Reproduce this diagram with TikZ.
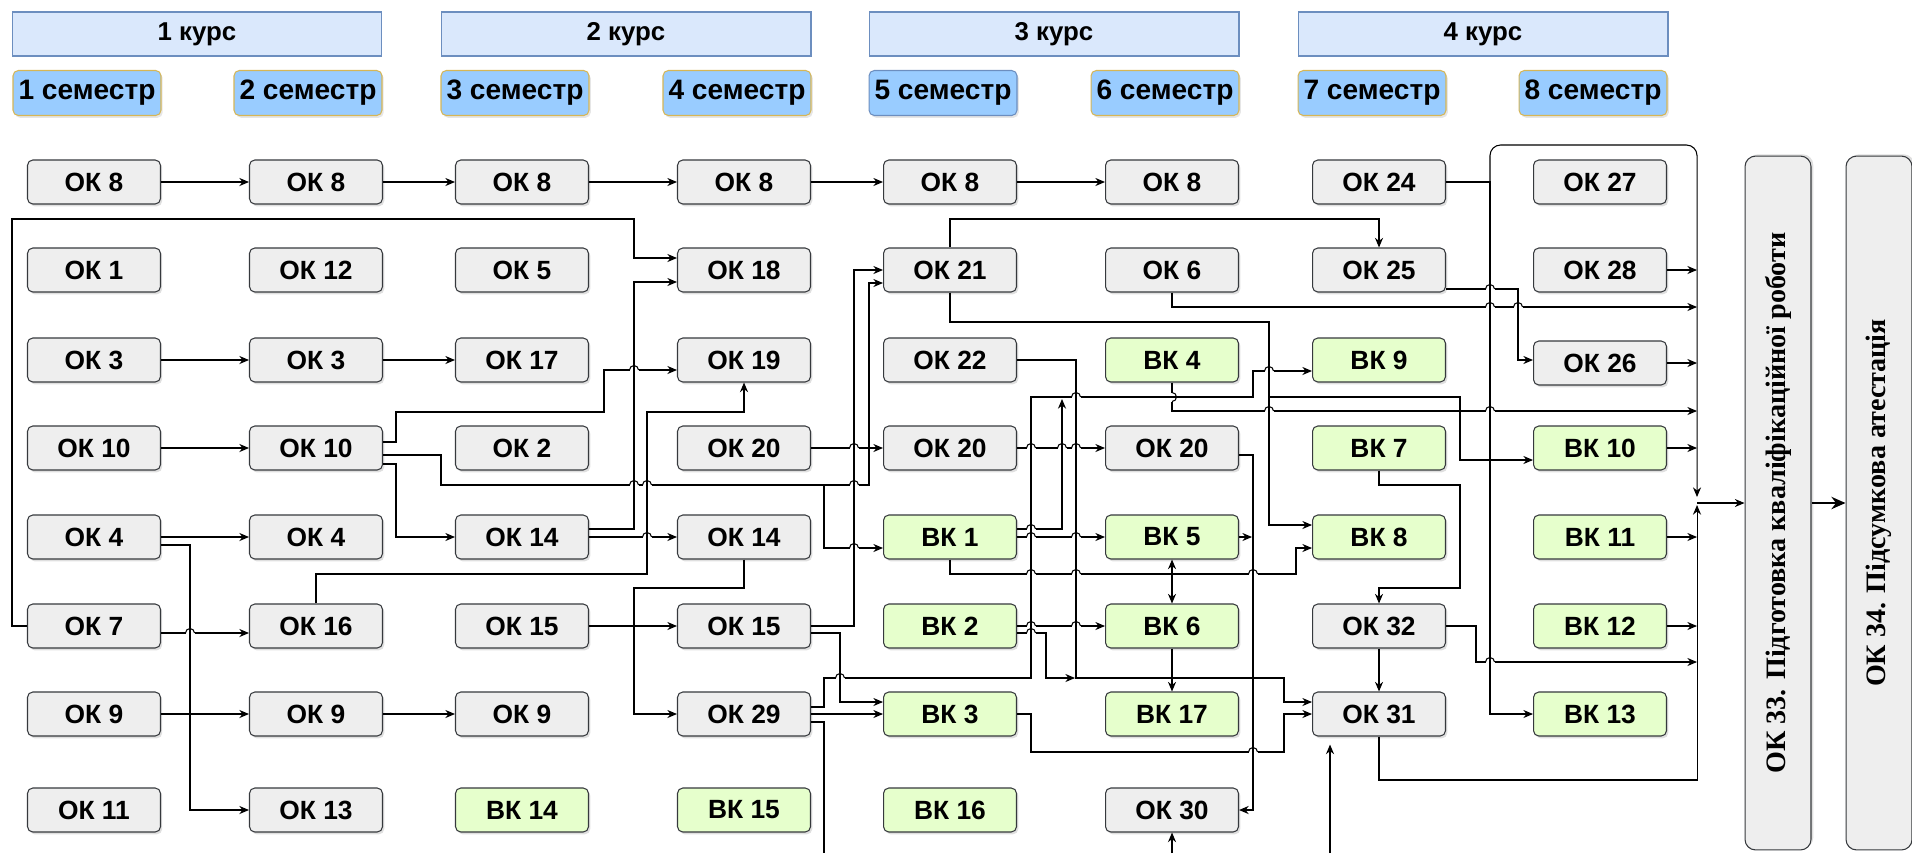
\documentclass[tikz,border=0pt]{standalone}
\usepackage{fontspec}
\setsansfont{Liberation Sans}
\setmainfont{Liberation Serif}
\usetikzlibrary{calc, arrows.meta, shadows}

\definecolor{okfill}{HTML}{EEEEEE}
\definecolor{vkfill}{HTML}{E6FFCC}
\definecolor{boxline}{HTML}{36393D}
\definecolor{kursfill}{HTML}{DAE8FC}
\definecolor{kursline}{HTML}{6C8EBF}
\definecolor{semfill}{HTML}{99CCFF}
\definecolor{semline}{HTML}{D6B656}

% line jump over a vertical wire (on a horizontal one), and the other way round
\newcommand\lnhop[2]{%
	\fill[white] ({#1-4.5},{#2-1.6}) rectangle ({#1+4.5},{#2+1.6});
	\draw (#1,{#2-6}) -- (#1,{#2+6});
	\draw ({#1-4.5},#2) arc[start angle=180, end angle=0, radius=2.56pt];}
\newcommand\vlnhop[2]{%
	\fill[white] ({#1-1.6},{#2-4.5}) rectangle ({#1+1.6},{#2+4.5});
	\draw ({#1-6},#2) -- ({#1+6},#2);
	\draw (#1,{#2-4.5}) arc[start angle=90, end angle=-90, radius=2.56pt];}

\begin{document}
\begin{tikzpicture}[x=0.02cm, y=-0.02cm,
		okbox/.style={rectangle, draw=boxline, fill=okfill, rounded corners=3pt, minimum width=2.66cm, minimum height=0.88cm, inner sep=0pt, font=\sffamily\bfseries\fontsize{15}{17}\selectfont, drop shadow={shadow xshift=1pt, shadow yshift=-1.3pt, opacity=0.25}},
		vkbox/.style={okbox, fill=vkfill},
		kurs/.style={rectangle, draw=kursline, fill=kursfill, minimum width=7.4cm, minimum height=0.88cm, inner sep=0pt, font=\sffamily\bfseries\fontsize{14.7}{17}\selectfont},
		sem/.style={rectangle, draw=semline, fill=semfill, rounded corners=3pt, minimum width=2.96cm, minimum height=0.9cm, inner sep=0pt, font=\sffamily\bfseries\fontsize{16}{18}\selectfont, drop shadow={shadow xshift=1pt, shadow yshift=-1.3pt, opacity=0.2}},
		finalbox/.style={rectangle, draw=boxline, fill=okfill, rounded corners=6pt, minimum width=13.88cm, minimum height=1.32cm, inner sep=0pt, font=\rmfamily\bfseries\fontsize{16}{18}\selectfont, drop shadow={shadow xshift=1.3pt, shadow yshift=1pt, opacity=0.25}},
		>={Stealth[length=5.5pt, width=4.6pt]}, line width=0.6pt
	]
	\useasboundingbox (0,0) rectangle (1912,853);

	% years and semesters
	\foreach \n/\t/\x in {k1/1 курс/197, k2/2 курс/626, k3/3 курс/1054, k4/4 курс/1483}
		\node[kurs] (\n) at (\x,34) {\t};
	\foreach \n/\t/\x in {sem1/1 семестр/87, sem2/2 семестр/308, sem3/3 семестр/515, sem4/4 семестр/737, sem6/6 семестр/1165, sem7/7 семестр/1372, sem8/8 семестр/1593}
		\node[sem] (\n) at (\x,93) {\t};
	\node[sem, draw=kursline] (sem5) at (943,93) {5 семестр};

	% disciplines
	\foreach \n/\t/\x/\y in {ok8s1/ОК 8/94/182, ok1s1/ОК 1/94/270, ok3s1/ОК 3/94/360, ok10s1/ОК 10/94/448, ok4s1/ОК 4/94/537, ok7s1/ОК 7/94/626, ok9s1/ОК 9/94/714, ok11s1/ОК 11/94/810,
		ok8s2/ОК 8/316/182, ok12s2/ОК 12/316/270, ok3s2/ОК 3/316/360, ok10s2/ОК 10/316/448, ok4s2/ОК 4/316/537, ok16s2/ОК 16/316/626, ok9s2/ОК 9/316/714, ok13s2/ОК 13/316/810,
		ok8s3/ОК 8/522/182, ok5s3/ОК 5/522/270, ok17s3/ОК 17/522/360, ok2s3/ОК 2/522/448, ok14s3/ОК 14/522/537, ok15s3/ОК 15/522/626, ok9s3/ОК 9/522/714,
		ok8s4/ОК 8/744/182, ok18s4/ОК 18/744/270, ok19s4/ОК 19/744/360, ok20s4/ОК 20/744/448, ok14s4/ОК 14/744/537, ok15s4/ОК 15/744/626, ok29s4/ОК 29/744/714,
		ok8s5/ОК 8/950/182, ok21s5/ОК 21/950/270, ok22s5/ОК 22/950/360, ok20s5/ОК 20/950/448,
		ok8s6/ОК 8/1172/182, ok6s6/ОК 6/1172/270, ok20s6/ОК 20/1172/448, ok30s6/ОК 30/1172/810,
		ok24s7/ОК 24/1379/182, ok25s7/ОК 25/1379/270, ok32s7/ОК 32/1379/626, ok31s7/ОК 31/1379/714,
		ok27s8/ОК 27/1600/182, ok28s8/ОК 28/1600/270, ok26s8/ОК 26/1600/363}
		\node[okbox] (\n) at (\x,\y) {\t};
	\foreach \n/\t/\x/\y in {vk14s3/ВК 14/522/810, vk15s4/ВК 15/744/810,
		vk1s5/ВК 1/950/537, vk2s5/ВК 2/950/626, vk3s5/ВК 3/950/714, vk16s5/ВК 16/950/810,
		vk4s6/ВК 4/1172/360, vk5s6/ВК 5/1172/537, vk6s6/ВК 6/1172/626, vk17s6/ВК 17/1172/714,
		vk9s7/ВК 9/1379/360, vk7s7/ВК 7/1379/448, vk8s7/ВК 8/1379/537,
		vk10s8/ВК 10/1600/448, vk11s8/ВК 11/1600/537, vk12s8/ВК 12/1600/626, vk13s8/ВК 13/1600/714}
		\node[vkbox] (\n) at (\x,\y) {\t};

	\node[finalbox, rotate=90] (ok33) at (1778,503) {ОК 33. Підготовка кваліфікаційної роботи};
	\node[finalbox, rotate=90] (ok34) at (1879,503) {ОК 34. Підсумкова атестація};

	\coordinate (bus) at (1697,145);
	\coordinate (busdown) at (1697,497);
	\coordinate (busup) at (1697,505);
	\coordinate (busout) at (1697,503);
	\coordinate (j24) at (1490,182);
	\coordinate (j9) at (1062,399);
	\coordinate (j31) at (1075,678);
	\coordinate (j30) at (1252,537);
	\coordinate (in30) at (1172,853);
	\coordinate (in31) at (1330,853);
	\coordinate (out29) at (824,853);

	\foreach \i/\j in {ok8s1/ok8s2, ok8s2/ok8s3, ok8s3/ok8s4, ok8s4/ok8s5, ok8s5/ok8s6, ok3s1/ok3s2, ok3s2/ok17s3, ok10s1/ok10s2, ok4s1/ok4s2, ok9s1/ok9s2, ok9s2/ok9s3, ok14s3/ok14s4, ok15s3/ok15s4, ok20s4/ok20s5, ok20s5/ok20s6, ok29s4/vk3s5, vk1s5/vk5s6, vk2s5/vk6s6, vk6s6/vk17s6, ok32s7/ok31s7, in30/ok30s6}
		\draw[->] (\i) -- (\j);

	\foreach \i in {ok28s8, ok26s8, vk10s8, vk11s8, vk12s8}
		\draw[->] (\i) -- (\i -| bus);

	\draw[<->] (vk5s6) -- (vk6s6);

	% first and second year
	\draw[->] ($(ok4s1.east)+(0,8)$) -| (190,810) -- (ok13s2);
	\draw[->] ($(ok7s1.east)+(0,7)$) -- ($(ok16s2.west)+(0,7)$);
	\draw[->] (ok7s1.west) -- (12,626) |- (634,219) |- ($(ok18s4.west)+(0,-12)$);
	\draw[->] ($(ok10s2.east)+(0,-6)$) -| (396,412) -| (604,370) -- ($(ok19s4.west)+(0,10)$);
	\draw[->] ($(ok10s2.east)+(0,7)$) -| (441,485) -| (869,283) -- ($(ok21s5.west)+(0,13)$);
	\draw[->] ($(ok10s2.east)+(0,7)$) -| (441,485) -| (824,548) -- ($(vk1s5.west)+(0,11)$);
	\draw[->] ($(ok10s2.east)+(0,16)$) -| (396,537) -- (ok14s3);
	\draw[->] ($(ok14s3.east)+(0,-8)$) -| (634,282) -- ($(ok18s4.west)+(0,12)$);
	\draw[->] (ok16s2.north) |- (647,574) |- (744,412) -- (ok19s4.south);
	\draw[->] (ok14s4.south) |- (634,588) |- (ok29s4);
	\draw[->] (ok15s4) -| (854,270) -- (ok21s5);
	\draw[->] ($(ok15s4.east)+(0,7)$) -| (840,702) -- ($(vk3s5.west)+(0,-12)$);
	\draw[->] ($(ok29s4.east)+(0,-7)$) -| (824,678) -| (1031,397) -| (1253,371) -- ($(vk9s7.west)+(0,11)$);
	\draw ($(ok29s4.east)+(0,8)$) -| (out29);

	% third year
	\draw[->] (ok21s5.north) |- (1379,219) -- (ok25s7);
	\draw[->] (ok21s5.south) |- (1269,322) |- ($(vk8s7.west)+(0,-12)$);
	\draw[->] (ok21s5.south) |- (1269,322) |- (1460,397) |- ($(vk10s8.west)+(0,12)$);
	\draw[->] (ok22s5) -| (1076,678) -| (1284,702) -- ($(ok31s7.west)+(0,-12)$);
	\draw[->] ($(vk1s5.east)+(0,-8)$) -| (j9);
	\draw[->] (vk1s5.south) |- (1296,574) |- ($(vk8s7.west)+(0,11)$);
	\draw[->] ($(vk2s5.east)+(0,7)$) -| (1046,678) -- (j31);
	\draw[->] (vk3s5) -| (1031,752) -| (1284,714) -- (ok31s7);
	\draw[->] (ok6s6.south) |- (bus |- 0,307);
	\draw[->] (vk4s6.south) |- (bus |- 0,411);
	\draw[->] ($(ok20s6.east)+(0,7)$) -| (1253,810) -- (ok30s6);
	\draw[->] (vk5s6) -- (j30);

	% fourth year
	\draw[->] (ok24s7) -| (1490,714) -- (vk13s8);
	\draw[->, rounded corners=6pt] (j24) |- (bus) -- (busdown);
	\draw[->] ($(ok25s7.east)+(0,19)$) -| (1518,360) -- (ok26s8.west |- 0,360);
	\draw[->] (vk7s7.south) |- (1460,485) |- (1379,588) -- (ok32s7);
	\draw[->] (ok32s7) -| (1476,662) -- (bus |- 0,662);
	\draw[->] (ok31s7.south) |- (1697,780) -- (busup);
	\draw[->] (in31) -- ($(in31 |- ok31s7.south)+(0,8)$);
	\draw[->] (busout) -- (busout -| ok33.north);
	\draw[->, line width=1.6pt, >={Stealth[length=8pt, width=7pt]}] (ok33) -- (ok34);

	% line jumps
	\foreach \x/\y in {190/633, 634/370, 634/485, 647/485, 854/485, 647/537, 854/448, 854/548, 840/678,
		1031/448, 1062/448, 1076/448, 1031/529, 1031/537, 1076/537, 1031/574, 1076/574, 1253/574,
		1031/626, 1076/626, 1031/633, 1076/397, 1269/371, 1269/411, 1490/411, 1490/307, 1518/307,
		1490/289, 1490/662, 1253/752}
		\lnhop{\x}{\y};
	\vlnhop{1172}{397}

\end{tikzpicture}
\end{document}
